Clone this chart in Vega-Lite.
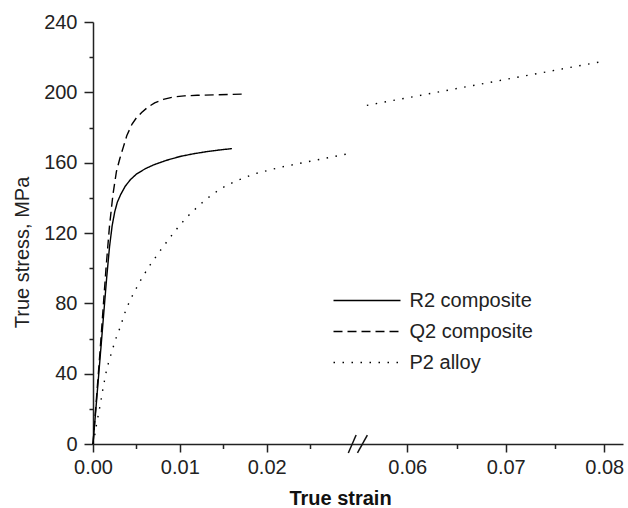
{
  "$schema": "https://vega.github.io/schema/vega-lite/v6.json",
  "width": 530,
  "height": 422,
  "autosize": {"type": "none"},
  "padding": {"left": 93, "top": 22, "right": 5, "bottom": 64},
  "background": "white",
  "config": {
    "view": {"stroke": null},
    "font": "Liberation Sans",
    "axis": {"grid": false, "labelFont": "Liberation Sans", "titleFont": "Liberation Sans"}
  },
  "datasets": {
    "curves": [
      {"material": "R2 composite", "segment": "a", "strain": 0, "stress": 0},
      {"material": "R2 composite", "segment": "a", "strain": 0.0006, "stress": 36},
      {"material": "R2 composite", "segment": "a", "strain": 0.0012, "stress": 72},
      {"material": "R2 composite", "segment": "a", "strain": 0.0016, "stress": 96},
      {"material": "R2 composite", "segment": "a", "strain": 0.0019, "stress": 112},
      {"material": "R2 composite", "segment": "a", "strain": 0.0022, "stress": 124},
      {"material": "R2 composite", "segment": "a", "strain": 0.0025, "stress": 132},
      {"material": "R2 composite", "segment": "a", "strain": 0.0028, "stress": 137.5},
      {"material": "R2 composite", "segment": "a", "strain": 0.0032, "stress": 142},
      {"material": "R2 composite", "segment": "a", "strain": 0.0037, "stress": 146.5},
      {"material": "R2 composite", "segment": "a", "strain": 0.0043, "stress": 150.3},
      {"material": "R2 composite", "segment": "a", "strain": 0.0050, "stress": 153.5},
      {"material": "R2 composite", "segment": "a", "strain": 0.0060, "stress": 156.5},
      {"material": "R2 composite", "segment": "a", "strain": 0.0070, "stress": 158.8},
      {"material": "R2 composite", "segment": "a", "strain": 0.0085, "stress": 161.4},
      {"material": "R2 composite", "segment": "a", "strain": 0.0100, "stress": 163.5},
      {"material": "R2 composite", "segment": "a", "strain": 0.0115, "stress": 165},
      {"material": "R2 composite", "segment": "a", "strain": 0.0130, "stress": 166.2},
      {"material": "R2 composite", "segment": "a", "strain": 0.0145, "stress": 167.2},
      {"material": "R2 composite", "segment": "a", "strain": 0.0160, "stress": 168},
      {"material": "Q2 composite", "segment": "a", "strain": 0, "stress": 0},
      {"material": "Q2 composite", "segment": "a", "strain": 0.0008, "stress": 52},
      {"material": "Q2 composite", "segment": "a", "strain": 0.0015, "stress": 100},
      {"material": "Q2 composite", "segment": "a", "strain": 0.0019, "stress": 124},
      {"material": "Q2 composite", "segment": "a", "strain": 0.0023, "stress": 142},
      {"material": "Q2 composite", "segment": "a", "strain": 0.0027, "stress": 155},
      {"material": "Q2 composite", "segment": "a", "strain": 0.0031, "stress": 162.5},
      {"material": "Q2 composite", "segment": "a", "strain": 0.0035, "stress": 169},
      {"material": "Q2 composite", "segment": "a", "strain": 0.0039, "stress": 175.5},
      {"material": "Q2 composite", "segment": "a", "strain": 0.0045, "stress": 182},
      {"material": "Q2 composite", "segment": "a", "strain": 0.0050, "stress": 185.5},
      {"material": "Q2 composite", "segment": "a", "strain": 0.0056, "stress": 188.5},
      {"material": "Q2 composite", "segment": "a", "strain": 0.0063, "stress": 191.5},
      {"material": "Q2 composite", "segment": "a", "strain": 0.0071, "stress": 194},
      {"material": "Q2 composite", "segment": "a", "strain": 0.0081, "stress": 196},
      {"material": "Q2 composite", "segment": "a", "strain": 0.0092, "stress": 197.3},
      {"material": "Q2 composite", "segment": "a", "strain": 0.0105, "stress": 198},
      {"material": "Q2 composite", "segment": "a", "strain": 0.0120, "stress": 198.3},
      {"material": "Q2 composite", "segment": "a", "strain": 0.0145, "stress": 198.6},
      {"material": "Q2 composite", "segment": "a", "strain": 0.0172, "stress": 199},
      {"material": "P2 alloy", "segment": "a", "strain": 0, "stress": 0},
      {"material": "P2 alloy", "segment": "a", "strain": 0.0002, "stress": 5},
      {"material": "P2 alloy", "segment": "a", "strain": 0.0004, "stress": 11},
      {"material": "P2 alloy", "segment": "a", "strain": 0.0008, "stress": 21.5},
      {"material": "P2 alloy", "segment": "a", "strain": 0.0012, "stress": 33},
      {"material": "P2 alloy", "segment": "a", "strain": 0.0016, "stress": 43},
      {"material": "P2 alloy", "segment": "a", "strain": 0.0021, "stress": 51.5},
      {"material": "P2 alloy", "segment": "a", "strain": 0.0026, "stress": 59.5},
      {"material": "P2 alloy", "segment": "a", "strain": 0.0031, "stress": 66},
      {"material": "P2 alloy", "segment": "a", "strain": 0.0037, "stress": 75},
      {"material": "P2 alloy", "segment": "a", "strain": 0.0042, "stress": 81},
      {"material": "P2 alloy", "segment": "a", "strain": 0.0047, "stress": 86},
      {"material": "P2 alloy", "segment": "a", "strain": 0.0057, "stress": 95},
      {"material": "P2 alloy", "segment": "a", "strain": 0.0066, "stress": 102},
      {"material": "P2 alloy", "segment": "a", "strain": 0.0076, "stress": 109},
      {"material": "P2 alloy", "segment": "a", "strain": 0.0088, "stress": 117},
      {"material": "P2 alloy", "segment": "a", "strain": 0.0100, "stress": 124.5},
      {"material": "P2 alloy", "segment": "a", "strain": 0.0112, "stress": 131},
      {"material": "P2 alloy", "segment": "a", "strain": 0.0124, "stress": 136.5},
      {"material": "P2 alloy", "segment": "a", "strain": 0.0135, "stress": 141},
      {"material": "P2 alloy", "segment": "a", "strain": 0.0148, "stress": 145.5},
      {"material": "P2 alloy", "segment": "a", "strain": 0.0162, "stress": 149},
      {"material": "P2 alloy", "segment": "a", "strain": 0.0185, "stress": 153.5},
      {"material": "P2 alloy", "segment": "a", "strain": 0.0215, "stress": 157.3},
      {"material": "P2 alloy", "segment": "a", "strain": 0.0250, "stress": 160.8},
      {"material": "P2 alloy", "segment": "a", "strain": 0.0298, "stress": 165.5},
      {"material": "P2 alloy", "segment": "b", "strain": 0.0559, "stress": 192.6},
      {"material": "P2 alloy", "segment": "b", "strain": 0.0604, "stress": 197.3},
      {"material": "P2 alloy", "segment": "b", "strain": 0.0667, "stress": 203.9},
      {"material": "P2 alloy", "segment": "b", "strain": 0.0735, "stress": 211},
      {"material": "P2 alloy", "segment": "b", "strain": 0.0794, "stress": 217.1}
    ],
    "breaks": [
      {"strain_from": 0.0294, "strain_to": 0.0303, "stress_from": -5.1, "stress_to": 5.1},
      {"strain_from": 0.05495, "strain_to": 0.05595, "stress_from": -5.1, "stress_to": 5.1}
    ]
  },
  "layer": [
    {
      "data": {"name": "curves"},
      "mark": {"type": "line", "color": "black", "strokeWidth": 1.4},
      "encoding": {
        "x": {
          "field": "strain", "type": "quantitative",
          "scale": {"domain": [0, 0.0304, 0.0549, 0.0819], "range": [0, 264, 264, 530], "nice": false, "zero": false},
          "axis": {
            "values": [0, 0.01, 0.02, 0.06, 0.07, 0.08], "format": ".2f", "orient": "bottom",
            "tickSize": 8, "tickWidth": 1.5, "tickColor": "#222", "domainColor": "#222", "domainWidth": 1.5,
            "labelFontSize": 20, "labelColor": "#222", "labelPadding": 5, "labelFlush": false, "labelOverlap": false,
            "title": "True strain", "titleFontSize": 20, "titleFontWeight": "bold", "titleColor": "#111",
            "titleX": 247, "titleY": 60, "titleAlign": "center", "titleBaseline": "alphabetic"
          }
        },
        "y": {
          "field": "stress", "type": "quantitative",
          "scale": {"domain": [0, 240], "nice": false},
          "axis": {
            "values": [0, 40, 80, 120, 160, 200, 240], "orient": "left",
            "tickSize": 9, "tickWidth": 1.5, "tickColor": "#222", "domainColor": "#222", "domainWidth": 1.5,
            "labelFontSize": 20, "labelColor": "#222", "labelPadding": 7, "labelFlush": false, "labelOverlap": false,
            "title": "True stress, MPa", "titleFontSize": 20, "titleFontWeight": "normal", "titleColor": "#222",
            "titleX": -71, "titleY": 230, "titleAngle": 270, "titleAlign": "center", "titleBaseline": "middle"
          }
        },
        "strokeDash": {
          "field": "material", "type": "nominal",
          "scale": {"domain": ["R2 composite", "Q2 composite", "P2 alloy"], "range": [[1, 0], [9, 5], [1.5, 7.5]]},
          "legend": {
            "orient": "none", "legendX": 239.5, "legendY": 263, "title": null, "padding": 0,
            "symbolType": "stroke", "symbolSize": 4489, "symbolStrokeWidth": 1.4, "symbolStrokeColor": "black",
            "clipHeight": 31, "rowPadding": 0, "labelFontSize": 20, "labelOffset": 8, "labelColor": "#222",
            "labelFont": "Liberation Sans"
          }
        },
        "detail": {"field": "segment"}
      }
    },
    {
      "data": {"name": "curves"},
      "mark": {"type": "point", "opacity": 0},
      "encoding": {
        "x": {
          "field": "strain", "type": "quantitative",
          "axis": {
            "values": [0.005, 0.015, 0.025, 0.065, 0.075], "orient": "bottom", "labels": false, "domain": false,
            "tickSize": 4.5, "tickWidth": 1.5, "tickColor": "#222", "title": null
          }
        },
        "y": {
          "field": "stress", "type": "quantitative",
          "axis": {
            "values": [20, 60, 100, 140, 180, 220], "orient": "left", "labels": false, "domain": false,
            "tickSize": 4, "tickWidth": 1.5, "tickColor": "#222", "title": null
          }
        }
      }
    },
    {
      "data": {"name": "breaks"},
      "mark": {"type": "rule", "color": "#111", "strokeWidth": 1.5},
      "encoding": {
        "x": {"field": "strain_from", "type": "quantitative", "axis": null},
        "x2": {"field": "strain_to"},
        "y": {"field": "stress_from", "type": "quantitative", "axis": null},
        "y2": {"field": "stress_to"}
      }
    }
  ],
  "resolve": {"axis": {"x": "independent", "y": "independent"}}
}
